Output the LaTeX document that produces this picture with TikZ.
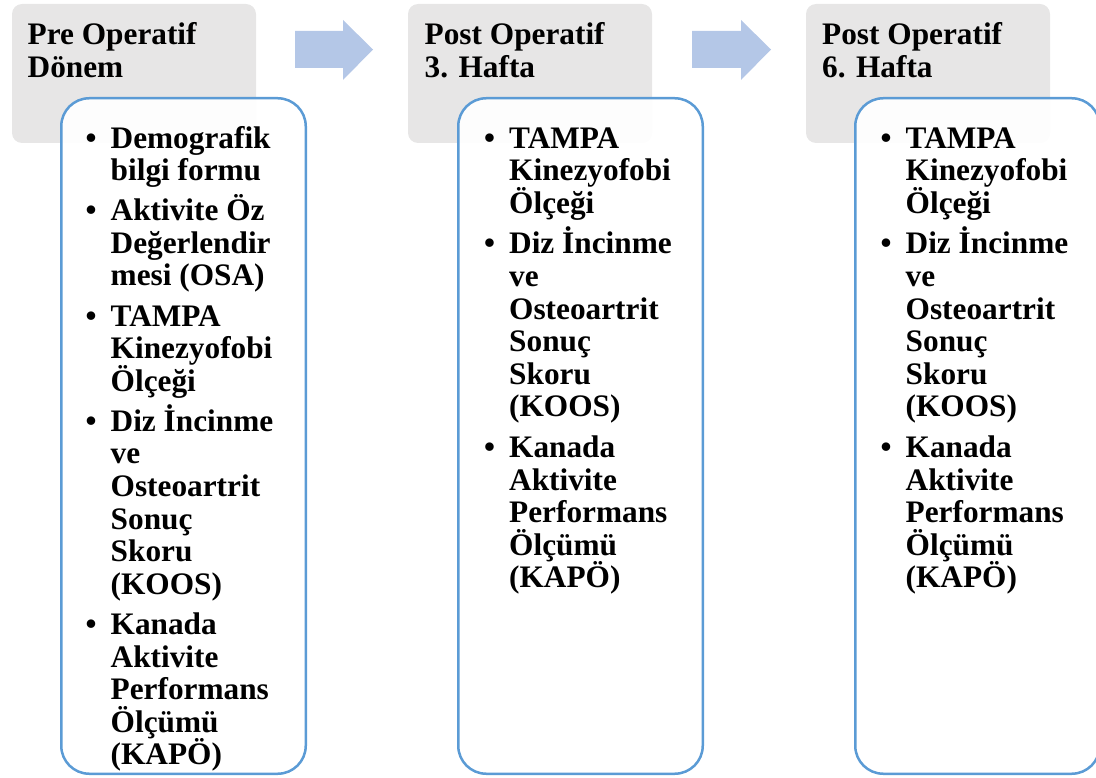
\documentclass[tikz,border=0pt]{standalone}
\usepackage{fontspec}
\setmainfont{Liberation Serif}
\definecolor{hdrgrey}{HTML}{E7E6E6}
\definecolor{listblue}{HTML}{5B9BD5}
\definecolor{arrowblue}{HTML}{B4C7E7}
% bullet hanging to the left of an item's first line
\newcommand\bul{\llap{\makebox[25pt][l]{\textbullet}}}
\newcommand\gap{\\[7.5pt]}

\begin{document}
% keep a fixed line pitch even for lines with accented capitals
\lineskiplimit=-100pt\relax
\begin{tikzpicture}[x=1pt,y=-1pt,
  hdrbox/.style={fill=hdrgrey, rounded corners=10pt, minimum width=244pt,
    minimum height=139pt, anchor=north west, inner sep=0pt, outer sep=0pt},
  listbox/.style={draw=listblue, line width=2.5pt, fill=white, fill opacity=0.92,
    rounded corners=28pt, minimum width=244.5pt, minimum height=675.5pt,
    anchor=north west, inner sep=0pt, outer sep=0pt},
  hdrtext/.style={anchor=base west, inner sep=0pt, align=left,
    font=\fontsize{31.3}{32.3}\selectfont\bfseries},
  listtext/.style={anchor=base west, inner sep=0pt, align=left,
    font=\fontsize{31.3}{32.6}\selectfont\bfseries},
  flowarrow/.style={fill=arrowblue}]

\useasboundingbox (0,0) rectangle (1096,778);

% stage headers (anchored at the baseline of their second line)
\node[hdrbox] (h1) at (12,4) {};
\node[hdrbox] (h2) at (408,4) {};
\node[hdrbox] (h3) at (806,4) {};
\node[hdrtext] (t1) at (27.5,77.3) {Pre Operatif\\Dönem};
\node[hdrtext] (t2) at (424.5,77.3) {Post Operatif\\3. Hafta};
\node[hdrtext] (t3) at (822,77.3) {Post Operatif\\6. Hafta};

% arrows between stages
\fill[flowarrow] (295,31) -- (343,31) -- (343,20) -- (373,49.5) -- (343,80)
  -- (343,68) -- (295,68) -- cycle;
\fill[flowarrow] (692,31) -- (741,31) -- (741,20) -- (771,49.5) -- (741,80)
  -- (741,68) -- (692,68) -- cycle;

% measurement lists
\node[listbox] (b1) at (61.25,98.25) {};
\node[listbox] (b2) at (458.25,98.25) {};
\node[listbox] (b3) at (855.25,98.25) {};

% lists are anchored at the baseline of their last line
\node[listtext] (l1) at (110.5,764.8) {%
\bul Demografik\\
bilgi formu\gap
\bul Aktivite Öz\\
Değerlendir\\
mesi (OSA)\gap
\bul TAMPA\\
Kinezyofobi\\
Ölçeği\gap
\bul Diz İncinme\\
ve\\
Osteoartrit\\
Sonuç\\
Skoru\\
(KOOS)\gap
\bul Kanada\\
Aktivite\\
Performans\\
Ölçümü\\
(KAPÖ)};

\node[listtext] (l2) at (509,587.8) {%
\bul TAMPA\\
Kinezyofobi\\
Ölçeği\\[8pt]
\bul Diz İncinme\\
ve\\
Osteoartrit\\
Sonuç\\
Skoru\\
(KOOS)\\[8pt]
\bul Kanada\\
Aktivite\\
Performans\\
Ölçümü\\
(KAPÖ)};

\node[listtext] (l3) at (905.5,587.8) {%
\bul TAMPA\\
Kinezyofobi\\
Ölçeği\\[8pt]
\bul Diz İncinme\\
ve\\
Osteoartrit\\
Sonuç\\
Skoru\\
(KOOS)\\[8pt]
\bul Kanada\\
Aktivite\\
Performans\\
Ölçümü\\
(KAPÖ)};
\end{tikzpicture}
\end{document}
